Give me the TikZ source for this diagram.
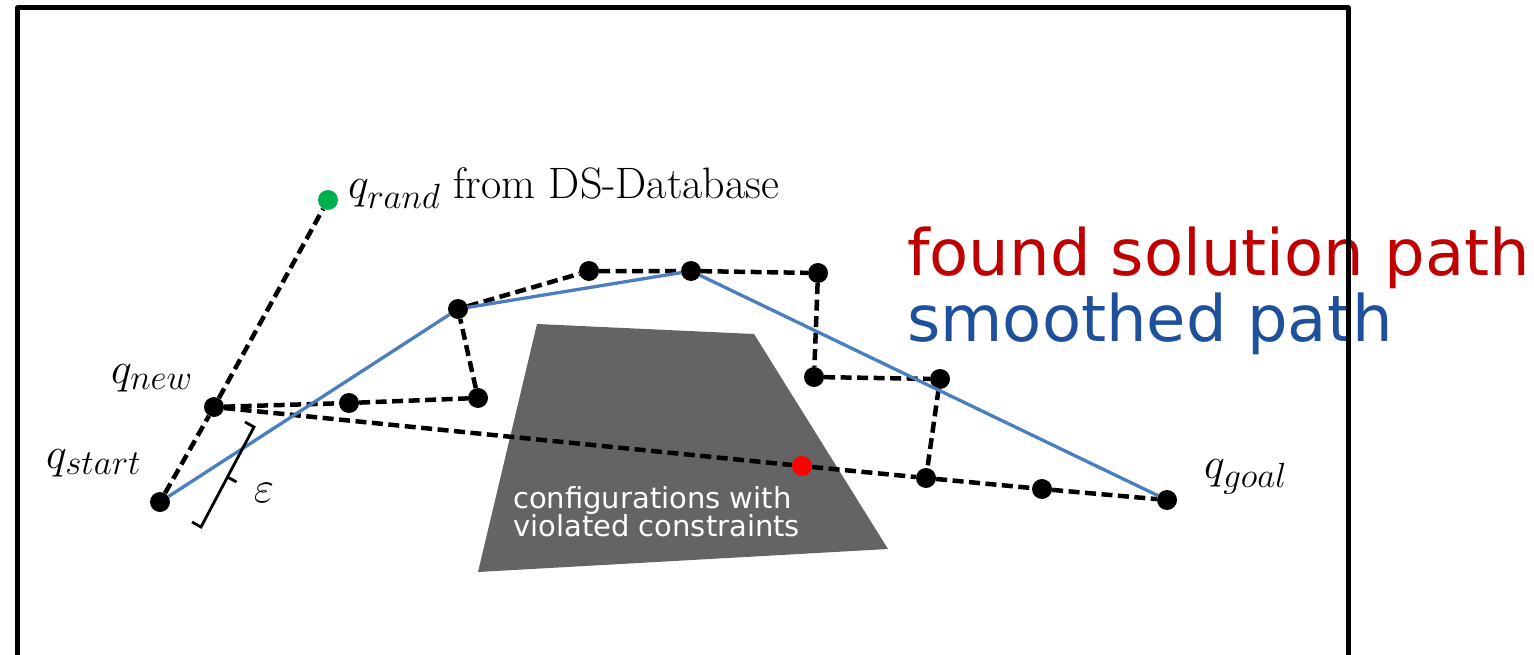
\RequirePackage{fix-cm}
\documentclass[tikz,border=0pt]{standalone}
\usepackage{fontspec}
\newfontfamily\legendfont{DejaVu Sans}
\DeclareMathSizes{44}{44}{35}{27}

\definecolor{obstacle}{RGB}{100,100,100}
\definecolor{smoothblue}{RGB}{74,126,190}
\definecolor{legendred}{RGB}{192,0,0}
\definecolor{legendblue}{RGB}{30,80,155}
\definecolor{randgreen}{RGB}{0,176,80}
\definecolor{hitred}{RGB}{255,0,0}

\begin{document}
\begin{tikzpicture}[x=1pt, y=-1pt,
  dot/.style={circle, fill=black, inner sep=0pt, minimum size=20pt},
  trial/.style={draw=black, line width=4.5pt, dash pattern=on 11pt off 5.5pt},
  smoothline/.style={draw=smoothblue, line width=3.3pt},
  mlabel/.style={inner sep=0pt, anchor=base west, font=\fontsize{44}{52}\selectfont},
  obstlabel/.style={inner sep=0pt, anchor=base west, text=white, font=\legendfont\fontsize{29}{29}\selectfont},
  legend/.style={inner sep=0pt, anchor=base west, font=\legendfont\fontsize{64}{64}\selectfont}
]
\useasboundingbox (0,0) rectangle (1534,655);

% region of configurations that violate the constraints
\fill[obstacle] (537,324) -- (754,334) -- (888,549) -- (478,572) -- cycle;
\node[obstlabel] (obst1) at (513,508) {configurations with};
\node[obstlabel] (obst2) at (513,536) {violated constraints};

% tree vertices
\node[dot] (qstart) at (160,502) {};
\node[dot] (qnew)   at (214,407) {};
\node[dot, fill=randgreen] (qrand) at (328,200) {};
\node[dot] (n1) at (349,403) {};
\node[dot] (n2) at (478,398) {};
\node[dot] (n3) at (458,309) {};
\node[dot] (n4) at (589,271) {};
\node[dot] (n5) at (691,271) {};
\node[dot] (n6) at (818,273) {};
\node[dot] (n7) at (814,377) {};
\node[dot] (n8) at (940,379) {};
\node[dot] (n9) at (926,478) {};
\node[dot] (n10) at (1042,489) {};
\node[dot] (qgoal) at (1167,500) {};
\node[dot, fill=hitred] (hit) at (802,466) {};

% extension towards the random sample and the found solution path
\draw[trial] (qstart) -- (qnew) -- (qrand);
\draw[trial] (qnew) -- (n1) -- (n2) -- (n3) -- (n4) -- (n5) -- (n6) -- (n7) -- (n8) -- (n9) -- (n10) -- (qgoal);
\draw[trial] (qnew) -- (hit) -- (n9);

% smoothed path
\draw[smoothline] (qstart) -- (n3) -- (n5) -- (qgoal);

% step size bracket
\coordinate (bt) at (254,427);
\coordinate (bb) at (201,527);
\coordinate (bm) at (227.5,477);
\draw[line width=2.8pt, line join=miter] ([shift={(-9,-5)}]bt) -- (bt) -- (bb) -- ([shift={(-9,-5)}]bb);
\draw[line width=2.8pt] (bm) -- ([shift={(9,5)}]bm);
\node[inner sep=0pt, font=\fontsize{44}{52}\selectfont] (eps) at (264,493) {$\varepsilon$};

% vertex labels
\node[mlabel] (lrand)  at (348,199) {$q_{rand}$ from DS-Database};
\node[mlabel] (lnew)   at (111,383) {$q_{new}$};
\node[mlabel] (lstart) at (46,468) {$q_{start}$};
\node[mlabel] (lgoal)  at (1204,478) {$q_{goal}$};

% legend
\node[legend, text=legendred]  (leg1) at (907,275) {found solution path};
\node[legend, text=legendblue] (leg2) at (907,341) {smoothed path};

% configuration space frame
\coordinate (fbl) at (17.5,655);
\coordinate (ftl) at (17.5,8);
\coordinate (ftr) at (1348,8);
\coordinate (fbr) at (1348,655);
\draw[line width=5pt, line join=round] (fbl) -- (ftl) -- (ftr) -- (fbr);
\end{tikzpicture}
\end{document}
